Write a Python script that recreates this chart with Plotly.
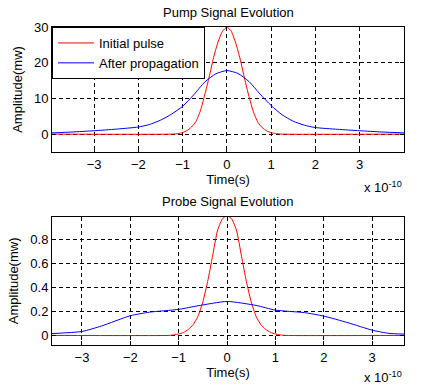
import plotly.graph_objects as go

# time axis unit: 1e-10 s
pump_t_init = [-3.95, -1.25, -1.1, -1.0, -0.9, -0.8, -0.7, -0.6, -0.5, -0.4, -0.3, -0.2, -0.1, 0.0,
               0.1, 0.2, 0.3, 0.4, 0.5, 0.6, 0.7, 0.8, 0.9, 1.0, 1.1, 1.25, 4.0]
pump_init = [0, 0, 0.15, 0.45, 1.0, 2.0, 3.5, 6.5, 11.0, 16.0, 21.5, 25.8, 28.8, 30.0,
             28.8, 25.5, 21.0, 15.5, 10.5, 6.2, 3.3, 1.8, 0.9, 0.4, 0.15, 0, 0]

pump_t_prop = [-3.95, -3.5, -3.0, -2.5, -2.0, -1.75, -1.5, -1.25, -1.0, -0.75, -0.5, -0.25, 0.0,
               0.25, 0.5, 0.75, 1.0, 1.25, 1.5, 1.75, 2.0, 2.5, 3.0, 3.5, 4.0]
pump_prop = [0.35, 0.6, 0.95, 1.4, 2.0, 2.7, 3.9, 5.6, 7.8, 11.0, 14.6, 16.9, 17.8,
             17.0, 14.7, 11.2, 8.0, 5.4, 3.6, 2.5, 1.85, 1.35, 0.95, 0.6, 0.35]

probe_t_init = [-3.63, -1.2, -1.1, -1.0, -0.9, -0.8, -0.7, -0.6, -0.5, -0.4, -0.3, -0.2, -0.1, 0.0,
                0.1, 0.2, 0.3, 0.4, 0.5, 0.6, 0.7, 0.8, 0.9, 1.0, 1.1, 1.2, 3.66]
probe_init = [0, 0, 0.004, 0.012, 0.025, 0.05, 0.09, 0.16, 0.28, 0.45, 0.66, 0.87, 0.97, 1.0,
              0.97, 0.87, 0.66, 0.45, 0.28, 0.16, 0.09, 0.05, 0.025, 0.012, 0.004, 0, 0]

probe_t_prop = [-3.63, -3.0, -2.6, -2.0, -1.6, -1.0, -0.6, 0.0, 0.6, 1.0, 1.6, 2.0, 2.5, 3.0, 3.35, 3.66]
probe_prop = [0.015, 0.033, 0.078, 0.164, 0.194, 0.217, 0.247, 0.283, 0.25, 0.211, 0.19, 0.161, 0.106, 0.044, 0.017, 0.011]

x_ticks = [-3, -2, -1, 0, 1, 2, 3]
pump_yticks = [0, 10, 20, 30]
probe_yticks = [0, 0.2, 0.4, 0.6, 0.8]
probe_yticklabels = ["0", "0.2", "0.4", "0.6", "0.8"]

W, H = 432, 387
FONT = "Liberation Sans, Arial, sans-serif"
x0, x1 = 52 / W, 404 / W
top_dom = [1 - 152 / H, 1 - 27 / H]
bot_dom = [1 - 345 / H, 1 - 216.7 / H]

fig = go.Figure()
fig.add_trace(go.Scatter(x=pump_t_init, y=pump_init, mode="lines", name="Initial pulse",
                         line=dict(color="#FF0000", width=1, shape="spline", smoothing=0.5),
                         xaxis="x", yaxis="y"))
fig.add_trace(go.Scatter(x=pump_t_prop, y=pump_prop, mode="lines", name="After propagation",
                         line=dict(color="#0000FF", width=1, shape="spline", smoothing=0.6),
                         xaxis="x", yaxis="y"))
fig.add_trace(go.Scatter(x=probe_t_init, y=probe_init, mode="lines", showlegend=False,
                         line=dict(color="#FF0000", width=1, shape="spline", smoothing=0.5),
                         xaxis="x2", yaxis="y2"))
fig.add_trace(go.Scatter(x=probe_t_prop, y=probe_prop, mode="lines", showlegend=False,
                         line=dict(color="#0000FF", width=1, shape="spline", smoothing=0.6),
                         xaxis="x2", yaxis="y2"))

axis_common = dict(showline=True, linecolor="black", linewidth=1, mirror="ticks",
                   ticks="inside", ticklen=4, tickcolor="black", automargin=False,
                   showgrid=True, gridcolor="black", gridwidth=1, griddash="4px,3px",
                   zeroline=False, tickfont=dict(family=FONT, size=13, color="black"))

fig.update_layout(
    width=W, height=H,
    margin=dict(l=0, r=0, t=0, b=0),
    paper_bgcolor="white", plot_bgcolor="white",
    font=dict(family=FONT, size=13, color="black"),
    xaxis=dict(domain=[x0, x1], anchor="y", range=[-3.95, 4.0], tickvals=x_ticks,
               title=dict(text="Time(s)", standoff=4, font=dict(size=13)), **axis_common),
    yaxis=dict(domain=top_dom, anchor="x", range=[-5, 30], tickvals=pump_yticks,
               title=dict(text="Amplitude(mw)", standoff=8, font=dict(size=13)), **axis_common),
    xaxis2=dict(domain=[x0, x1], anchor="y2", range=[-3.62, 3.66], tickvals=x_ticks,
                title=dict(text="Time(s)", standoff=4, font=dict(size=13)), **axis_common),
    yaxis2=dict(domain=bot_dom, anchor="x2", range=[-0.08, 0.99], tickvals=probe_yticks,
                ticktext=probe_yticklabels,
                title=dict(text="Amplitude(mw)", standoff=8, font=dict(size=13)), **axis_common),
    legend=dict(x=x0, y=top_dom[1], xanchor="left", yanchor="top",
                bgcolor="white", bordercolor="black", borderwidth=1,
                font=dict(family=FONT, size=13, color="black"),
                itemwidth=36, tracegroupgap=0),
    showlegend=True,
    annotations=[
        dict(text="Pump Signal Evolution", x=(x0 + x1) / 2, y=1 - 12 / H, xref="paper", yref="paper",
             showarrow=False, font=dict(size=13), xanchor="center", yanchor="middle"),
        dict(text="Probe Signal Evolution", x=(x0 + x1) / 2, y=1 - 201 / H, xref="paper", yref="paper",
             showarrow=False, font=dict(size=13), xanchor="center", yanchor="middle"),
        dict(text="x 10<sup>-10</sup>", x=x1, y=1 - 187 / H, xref="paper", yref="paper",
             showarrow=False, font=dict(size=13), xanchor="right", yanchor="middle"),
        dict(text="x 10<sup>-10</sup>", x=x1, y=1 - 377 / H, xref="paper", yref="paper",
             showarrow=False, font=dict(size=13), xanchor="right", yanchor="middle"),
    ],
)

fig.write_html("out.html", config={"displayModeBar": False},
               post_script="document.body.style.margin='0';document.body.style.padding='0';")
